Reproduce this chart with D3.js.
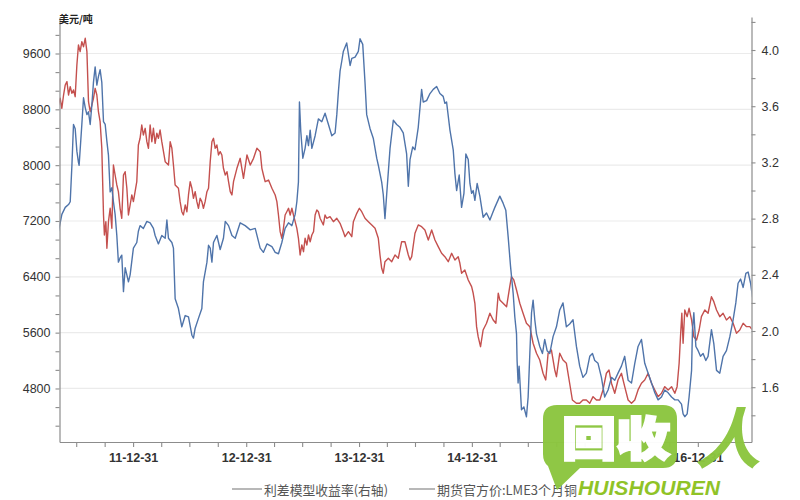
<!DOCTYPE html>
<html><head><meta charset="utf-8">
<script src="https://cdn.jsdelivr.net/npm/d3@7"></script>
<style>body{margin:0;background:#fff;} svg{display:block;}</style>
</head><body><svg id="c" width="800" height="500"></svg>
<script>
// ---------- data ----------
const unitLabel = "美元/吨";
const legendLabels = ["利差模型收益率(右轴)", "期货官方价:LME3个月铜"];
// year-end labels visible in the picture (15-12-31 is hidden under the logo)
const yearTickLabels = ["11-12-31","12-12-31","13-12-31","14-12-31","16-12-31"];
const leftTicks = [4800,5600,6400,7200,8000,8800,9600];
const rightTicks = [1.6,2.0,2.4,2.8,3.2,3.6,4.0];
const watermarkLabels = ["回收", "人", "HUISHOUREN"];

// spread model yield (right axis), time in decimal years
const spreadYears = [2011.336,2011.366,2011.396,2011.425,2011.440,2011.455,2011.469,2011.484,2011.499,2011.513,
2011.519,2011.543,2011.558,2011.573,2011.588,2011.602,2011.617,2011.632,2011.646,2011.661,
2011.676,2011.690,2011.705,2011.720,2011.735,2011.750,2011.765,2011.779,2011.794,2011.809,
2011.823,2011.838,2011.853,2011.867,2011.882,2011.897,2011.912,2011.927,2011.942,2011.956,
2011.971,2012.000,2012.030,2012.044,2012.059,2012.088,2012.119,2012.148,2012.177,2012.192,
2012.221,2012.251,2012.281,2012.296,2012.310,2012.340,2012.354,2012.369,2012.398,2012.428,
2012.458,2012.487,2012.517,2012.531,2012.546,2012.575,2012.605,2012.619,2012.650,2012.664,
2012.679,2012.694,2012.708,2012.738,2012.767,2012.796,2012.812,2012.841,2012.871,2012.900,
2012.944,2012.988,2013.033,2013.077,2013.121,2013.150,2013.181,2013.225,2013.254,2013.283,
2013.313,2013.342,2013.372,2013.402,2013.431,2013.446,2013.460,2013.469,2013.481,2013.499,
2013.519,2013.535,2013.549,2013.564,2013.579,2013.608,2013.637,2013.667,2013.696,2013.726,
2013.756,2013.785,2013.800,2013.814,2013.829,2013.844,2013.858,2013.888,2013.918,2013.933,
2013.962,2013.991,2014.006,2014.030,2014.050,2014.065,2014.095,2014.124,2014.154,2014.168,
2014.198,2014.212,2014.227,2014.242,2014.272,2014.301,2014.331,2014.360,2014.389,2014.419,
2014.434,2014.449,2014.473,2014.493,2014.522,2014.552,2014.566,2014.596,2014.626,2014.655,
2014.685,2014.714,2014.743,2014.758,2014.773,2014.803,2014.832,2014.847,2014.862,2014.885,
2014.906,2014.927,2014.944,2014.965,2014.980,2014.995,2015.009,2015.024,2015.044,2015.068,
2015.097,2015.127,2015.157,2015.181,2015.201,2015.245,2015.274,2015.298,2015.319,2015.340,
2015.363,2015.378,2015.393,2015.398,2015.407,2015.416,2015.437,2015.458,2015.481,2015.496,
2015.511,2015.526,2015.540,2015.555,2015.570,2015.599,2015.623,2015.643,2015.664,2015.688,
2015.717,2015.747,2015.776,2015.805,2015.835,2015.864,2015.894,2015.924,2015.953,2015.982,
2016.012,2016.042,2016.066,2016.086,2016.115,2016.145,2016.174,2016.204,2016.234,2016.263,
2016.292,2016.322,2016.351,2016.381,2016.411,2016.440,2016.469,2016.499,2016.528,2016.558,
2016.588,2016.617,2016.646,2016.676,2016.705,2016.735,2016.765,2016.794,2016.823,2016.853,
2016.867,2016.882,2016.903,2016.920,2016.942,2016.950,2016.962,2016.980,2017.000,2017.021,
2017.044,2017.068,2017.088,2017.118,2017.139,2017.163,2017.192,2017.221,2017.251,2017.281,
2017.310,2017.334,2017.354,2017.376,2017.399,2017.423,2017.443,2017.465,2017.482];
const spreadValues = [2.71,2.83,2.88,2.90,2.92,3.18,3.47,3.44,3.28,3.20,
3.18,3.47,3.66,3.59,3.54,3.56,3.47,3.61,3.77,3.88,
3.75,3.81,3.86,3.77,3.49,3.47,3.35,3.25,2.99,3.02,
2.92,2.83,2.68,2.49,2.52,2.54,2.28,2.45,2.40,2.35,
2.40,2.59,2.63,2.71,2.75,2.73,2.78,2.77,2.73,2.68,
2.62,2.68,2.66,2.79,2.66,2.63,2.59,2.23,2.16,2.03,
2.11,2.10,1.97,1.95,2.02,2.09,2.16,2.35,2.49,2.61,
2.59,2.49,2.63,2.68,2.58,2.66,2.78,2.75,2.68,2.66,
2.77,2.75,2.72,2.73,2.59,2.56,2.62,2.60,2.56,2.55,
2.63,2.73,2.77,2.75,2.83,2.92,3.06,3.63,3.42,3.23,
3.30,3.39,3.32,3.43,3.30,3.39,3.51,3.49,3.55,3.47,
3.39,3.41,3.54,3.70,3.85,3.92,3.99,4.05,3.89,3.94,
3.95,3.99,4.08,4.04,3.77,3.54,3.44,3.37,3.23,3.18,
3.06,2.97,2.80,2.97,3.30,3.50,3.47,3.45,3.41,3.26,
3.03,3.22,3.31,3.29,3.45,3.72,3.63,3.64,3.69,3.72,
3.74,3.69,3.67,3.62,3.63,3.43,3.29,3.12,3.00,3.11,
2.88,2.98,3.26,3.22,3.05,2.98,3.00,2.93,3.05,2.96,
2.81,2.84,2.79,2.84,2.88,2.96,2.91,2.86,2.67,2.46,
2.27,2.10,1.98,1.79,1.63,1.75,1.44,1.46,1.39,1.53,
1.84,2.13,2.22,2.08,1.98,1.89,1.84,1.94,1.86,1.84,
1.96,2.03,2.15,2.20,2.03,2.05,2.08,1.89,1.75,1.67,
1.70,1.82,1.84,1.79,1.77,1.67,1.53,1.58,1.67,1.65,
1.70,1.75,1.82,1.65,1.63,1.77,1.89,1.94,1.77,1.70,
1.63,1.56,1.51,1.53,1.58,1.56,1.53,1.51,1.51,1.48,
1.41,1.39,1.41,1.53,1.72,2.01,2.13,1.89,1.86,1.82,
1.84,1.79,1.82,2.01,1.91,1.72,1.70,1.82,1.86,1.96,
2.08,2.20,2.34,2.37,2.31,2.41,2.42,2.34,2.24];

// LME 3-month copper (left axis, USD/t)
const copperYears = [2011.336,2011.351,2011.366,2011.381,2011.396,2011.411,2011.425,2011.440,2011.455,2011.469,
2011.484,2011.499,2011.513,2011.528,2011.543,2011.558,2011.573,2011.588,2011.602,2011.617,
2011.632,2011.646,2011.661,2011.676,2011.690,2011.705,2011.720,2011.735,2011.743,2011.756,
2011.765,2011.779,2011.794,2011.809,2011.823,2011.838,2011.853,2011.867,2011.882,2011.897,
2011.912,2011.927,2011.942,2011.956,2011.971,2011.986,2012.000,2012.015,2012.030,2012.044,
2012.059,2012.074,2012.088,2012.104,2012.119,2012.133,2012.148,2012.163,2012.177,2012.192,
2012.207,2012.221,2012.236,2012.251,2012.281,2012.310,2012.325,2012.340,2012.354,2012.369,
2012.398,2012.413,2012.428,2012.442,2012.458,2012.473,2012.487,2012.502,2012.517,2012.531,
2012.546,2012.561,2012.575,2012.590,2012.605,2012.619,2012.634,2012.650,2012.664,2012.679,
2012.694,2012.708,2012.723,2012.738,2012.752,2012.767,2012.782,2012.796,2012.812,2012.827,
2012.841,2012.856,2012.871,2012.885,2012.915,2012.944,2012.973,2013.004,2013.033,2013.062,
2013.092,2013.121,2013.136,2013.150,2013.165,2013.195,2013.225,2013.254,2013.269,2013.283,
2013.298,2013.313,2013.327,2013.342,2013.357,2013.372,2013.387,2013.402,2013.416,2013.431,
2013.446,2013.460,2013.475,2013.490,2013.505,2013.519,2013.535,2013.549,2013.564,2013.579,
2013.594,2013.608,2013.623,2013.637,2013.652,2013.681,2013.696,2013.711,2013.740,2013.770,
2013.800,2013.829,2013.858,2013.873,2013.903,2013.933,2013.947,2013.977,2014.000,2014.021,
2014.050,2014.080,2014.110,2014.139,2014.168,2014.183,2014.198,2014.212,2014.227,2014.257,
2014.287,2014.316,2014.345,2014.375,2014.404,2014.434,2014.449,2014.464,2014.493,2014.522,
2014.552,2014.581,2014.611,2014.641,2014.670,2014.699,2014.729,2014.758,2014.788,2014.818,
2014.847,2014.876,2014.891,2014.906,2014.935,2014.965,2014.995,2015.009,2015.024,2015.039,
2015.053,2015.074,2015.097,2015.127,2015.157,2015.186,2015.210,2015.231,2015.245,2015.274,
2015.305,2015.333,2015.348,2015.369,2015.393,2015.422,2015.451,2015.481,2015.511,2015.540,
2015.570,2015.599,2015.628,2015.652,2015.673,2015.702,2015.732,2015.747,2015.776,2015.805,
2015.835,2015.864,2015.888,2015.924,2015.953,2015.982,2016.012,2016.042,2016.071,2016.101,
2016.131,2016.159,2016.189,2016.212,2016.234,2016.263,2016.292,2016.322,2016.351,2016.381,
2016.411,2016.440,2016.469,2016.499,2016.528,2016.558,2016.588,2016.617,2016.646,2016.676,
2016.705,2016.735,2016.765,2016.794,2016.814,2016.832,2016.844,2016.856,2016.867,2016.882,
2016.903,2016.920,2016.942,2016.962,2016.986,2017.009,2017.029,2017.059,2017.088,2017.118,
2017.139,2017.163,2017.192,2017.221,2017.251,2017.281,2017.310,2017.340,2017.369,2017.399,
2017.429,2017.458,2017.482];
const copperValues = [8862,8958,8815,9005,9149,9196,9005,9124,9030,9077,
8981,9435,9722,9626,9769,9697,9818,9626,8909,8766,
8862,8958,9101,9005,8766,8623,8242,7286,6999,7190,
6809,7190,7382,7095,8002,7859,7716,7620,7382,7239,
7859,7906,7669,7286,7429,7573,7477,7620,7763,8289,
8385,8575,8432,8528,8336,8242,8575,8336,8528,8313,
8457,8385,8504,8336,8050,8002,8336,8242,8002,7716,
7669,7477,7333,7286,7429,7333,7573,7763,7669,7525,
7620,7477,7382,7525,7477,7382,7477,7620,7669,8050,
8336,8385,8242,8289,8146,8193,8146,7955,7859,7906,
7763,7620,7573,7763,7955,8098,7812,8146,8002,8098,
8242,8193,7955,7859,7763,7787,7669,7573,7477,7286,
7047,6952,7095,7286,7333,7382,7286,7382,7286,7190,
7095,6952,6713,6856,6760,6952,6856,6999,6903,6999,
7047,7286,7358,7333,7239,7143,7286,7239,7262,7190,
7239,7167,7047,6975,7047,6975,7190,7310,7382,7333,
7239,7190,7143,7095,6952,6713,6522,6451,6617,6666,
6617,6713,6666,6903,6903,6713,6641,6689,7024,7143,
7118,7071,6928,7071,6928,6832,6737,6689,6617,6737,
6641,6689,6594,6451,6498,6355,6259,6164,6021,5686,
5542,5399,5638,5734,5878,5782,5734,6164,6068,6021,
5972,6259,6402,6355,6211,6021,5878,5734,5686,5448,
5304,5208,5018,4922,5304,5352,5065,4969,5304,5208,
5161,4875,4635,4588,4588,4635,4635,4588,4683,4635,
4635,4779,5018,5065,4875,4731,4922,5018,4826,4635,
4588,4635,4779,4875,4922,5018,4875,4779,4683,4731,
4826,4779,4826,4731,4826,5161,5542,5878,5448,5925,
5829,5949,5782,5542,5495,5638,5829,5925,5878,6115,
6044,5925,5829,5878,5782,5829,5734,5591,5638,5734,
5686,5686,5638];

// ---------- helpers ----------
function yearToDate(y) {
  const yr = Math.floor(y);
  const a = new Date(yr, 0, 1), b = new Date(yr + 1, 0, 1);
  return new Date(+a + (y - yr) * (b - a));
}
const parseTick = d3.timeParse("%y-%m-%d");

// ---------- layout ----------
const plotLeft = 59.5, plotRight = 751.5, plotTop = 17, plotBottom = 442;
const svg = d3.select("#c");
const numFont = "'Liberation Sans', Arial, sans-serif";
const cjkFont = "'Noto Sans CJK SC', 'Noto Sans', sans-serif";

const x = d3.scaleTime()
  .domain([yearToDate(2011.345), yearToDate(2017.473)])
  .range([plotLeft, plotRight]);
const yL = d3.scaleLinear().domain([4033, 10123]).range([plotBottom, plotTop]);
const yR = d3.scaleLinear().domain([1.21, 4.235]).range([plotBottom, plotTop]);

// gridlines
svg.append("g").selectAll("line").data(leftTicks).join("line")
  .attr("x1", plotLeft).attr("x2", plotRight)
  .attr("y1", d => yL(d)).attr("y2", d => yL(d))
  .attr("stroke", "#ebebeb").attr("stroke-width", 1.2);

// lines
svg.append("clipPath").attr("id", "clip").append("rect")
  .attr("x", plotLeft).attr("y", plotTop - 5).attr("width", plotRight - plotLeft).attr("height", plotBottom - plotTop + 5);

const copper = d3.zip(copperYears, copperValues);
const spread = d3.zip(spreadYears, spreadValues);

svg.append("path").datum(copper)
  .attr("clip-path", "url(#clip)")
  .attr("fill", "none").attr("stroke", "#c4504e").attr("stroke-width", 1.4)
  .attr("stroke-linejoin", "round")
  .attr("d", d3.line().x(d => x(yearToDate(d[0]))).y(d => yL(d[1])));

svg.append("path").datum(spread)
  .attr("clip-path", "url(#clip)")
  .attr("fill", "none").attr("stroke", "#4f74aa").attr("stroke-width", 1.4)
  .attr("stroke-linejoin", "round")
  .attr("d", d3.line().x(d => x(yearToDate(d[0]))).y(d => yR(d[1])));

// ---------- axes ----------
function styleAxis(g) {
  g.select(".domain").attr("stroke", "#8c8c8c").attr("stroke-width", 1.2);
  g.selectAll(".tick line").attr("stroke", "#8c8c8c").attr("stroke-width", 1.1);
  g.selectAll(".tick text").attr("fill", "#333");
}

// left axis with minor ticks (thirds of 800)
const leftAll = d3.range(-2, 20).map(k => 4800 + k * 800 / 3).filter(v => v > 4040 && v < 10120);
const gL = svg.append("g").attr("transform", `translate(${plotLeft},0)`)
  .call(d3.axisLeft(yL).tickValues(leftAll).tickSize(4).tickSizeOuter(0)
    .tickFormat(v => {
      const m = leftTicks.find(t => Math.abs(t - v) < 1);
      return m ? String(m) : "";
    }));
styleAxis(gL);
gL.selectAll(".tick text").attr("font-family", numFont).attr("font-size", 12.5).attr("dx", -2);

// right axis with minor ticks (0.2)
const rightAll = d3.range(7, 22).map(k => k * 0.2).filter(v => v > 1.25 && v < 4.23);
const gR = svg.append("g").attr("transform", `translate(${plotRight},0)`)
  .call(d3.axisRight(yR).tickValues(rightAll).tickSize(4).tickSizeOuter(0)
    .tickFormat(v => {
      const m = rightTicks.find(t => Math.abs(t - v) < 1e-6);
      return m ? m.toFixed(1) : "";
    }));
styleAxis(gR);
gR.selectAll(".tick text").attr("font-family", numFont).attr("font-size", 12.5).attr("dx", 3);

// bottom axis: quarter-end ticks, year-end labels
const quarterEnds = [];
for (let yr = 2011; yr <= 2017; yr++) for (const m of [3, 6, 9, 12]) {
  const d = new Date(yr, m, 0);
  if (d >= x.domain()[0] && d <= x.domain()[1]) quarterEnds.push(d);
}
const labelDates = yearTickLabels.map(s => parseTick(s));
const gB = svg.append("g").attr("transform", `translate(0,${plotBottom})`)
  .call(d3.axisBottom(x).tickValues(quarterEnds).tickSize(5).tickSizeOuter(0)
    .tickFormat(d => {
      const i = labelDates.findIndex(ld => +ld === +d);
      return i >= 0 ? yearTickLabels[i] : "";
    }));
styleAxis(gB);
gB.selectAll(".tick text").attr("font-family", numFont).attr("font-size", 12.5)
  .attr("font-weight", "bold").attr("dy", "0.95em");

// unit label
svg.append("text").attr("x", 59).attr("y", 23).text(unitLabel)
  .attr("font-family", cjkFont).attr("font-size", 10).attr("font-weight", "bold").attr("fill", "#222");

// ---------- legend ----------
const legendItems = [
  { label: legendLabels[0], x1: 232, x2: 262, w: 124 },
  { label: legendLabels[1], x1: 409, x2: 435, w: 140 }
];
const lg = svg.append("g");
legendItems.forEach(it => {
  lg.append("line").attr("x1", it.x1).attr("x2", it.x2).attr("y1", 489).attr("y2", 489)
    .attr("stroke", "#a0a0a0").attr("stroke-width", 1.5);
  lg.append("text").attr("x", it.x2 + 2).attr("y", 494.5).text(it.label)
    .attr("font-family", cjkFont).attr("font-size", 13).attr("fill", "#555")
    .attr("textLength", it.w).attr("lengthAdjust", "spacingAndGlyphs");
});

// ---------- watermark ----------
const wm = svg.append("g").attr("opacity", 0.97);
const green = "#8cc63f";
wm.append("path")
  .attr("d", "M557,405 H663 Q677,405 677,419 V454 Q677,468 663,468 H580 L557,490 L548,466 Q543,462 543,454 V419 Q543,405 557,405 Z")
  .attr("fill", green);
wm.append("text").attr("x", 562).attr("y", 455).text(watermarkLabels[0])
  .attr("font-family", cjkFont).attr("font-size", 46).attr("font-weight", 900)
  .attr("fill", "#fff").attr("stroke", "#fff").attr("stroke-width", 2.5)
  .attr("textLength", 108).attr("lengthAdjust", "spacingAndGlyphs");
wm.append("text").attr("x", 695).attr("y", 463).text(watermarkLabels[1])
  .attr("font-family", cjkFont).attr("font-size", 66).attr("font-weight", 700)
  .attr("font-style", "italic").attr("fill", green);
wm.append("text").attr("x", 578).attr("y", 495).text(watermarkLabels[2])
  .attr("font-family", "'Liberation Sans', Arial, sans-serif").attr("font-size", 21)
  .attr("font-weight", "bold").attr("font-style", "italic").attr("fill", "#8dc21f")
  .attr("textLength", 142).attr("lengthAdjust", "spacingAndGlyphs");
</script>
</body></html>
